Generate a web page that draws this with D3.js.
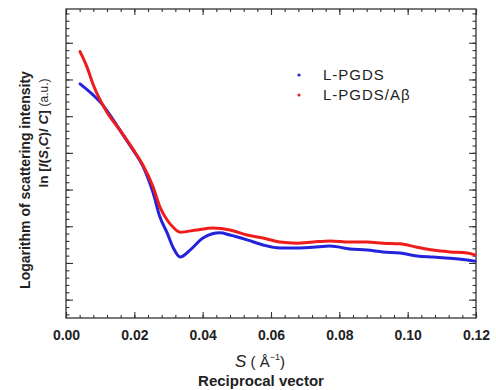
<!DOCTYPE html>
<html>
<head>
<meta charset="utf-8">
<script src="https://cdn.jsdelivr.net/npm/d3@7"></script>
<style>
  body { margin: 0; background: #fff; }
  svg { font-family: "Liberation Sans", Arial, sans-serif; }
</style>
</head>
<body>
<div id="chart"></div>
<script>
// reciprocal vector S (1/A) and ln intensity (a.u.)
const sPgds = [0.0041, 0.0079, 0.0108, 0.0138, 0.0167, 0.0196, 0.0225, 0.0255, 0.0275, 0.0296,
  0.0313, 0.0334, 0.0363, 0.0401, 0.0451, 0.0480, 0.0530, 0.0577, 0.0626, 0.0676,
  0.0723, 0.0773, 0.0831, 0.0881, 0.0928, 0.0978, 0.1027, 0.1074, 0.1124, 0.1174, 0.1197];
const lnPgds = [6.88, 6.58, 6.30, 5.90, 5.49, 5.08, 4.64, 3.91, 3.25, 2.82,
  2.43, 2.16, 2.35, 2.68, 2.82, 2.76, 2.63, 2.49, 2.41, 2.41,
  2.43, 2.46, 2.38, 2.35, 2.30, 2.27, 2.19, 2.16, 2.13, 2.08, 2.05];

const sAbeta = [0.0041, 0.0061, 0.0080, 0.0119, 0.0158, 0.0196, 0.0225, 0.0255, 0.0275, 0.0296,
  0.0313, 0.0334, 0.0383, 0.0430, 0.0480, 0.0530, 0.0577, 0.0626, 0.0676, 0.0723,
  0.0773, 0.0831, 0.0881, 0.0928, 0.0978, 0.1027, 0.1074, 0.1124, 0.1174, 0.1197];
const lnAbeta = [7.76, 7.35, 6.85, 6.12, 5.62, 5.10, 4.67, 4.07, 3.52, 3.17,
  2.98, 2.84, 2.90, 2.95, 2.90, 2.76, 2.68, 2.57, 2.54, 2.57,
  2.60, 2.57, 2.57, 2.54, 2.52, 2.43, 2.35, 2.30, 2.27, 2.22];

const seriesNames = ['L-PGDS', 'L-PGDS/A\u03b2'];
const seriesColors = ['#2323dc', '#ee1c1c'];
const xTicks = [0, 0.02, 0.04, 0.06, 0.08, 0.10, 0.12];

const width = 496, height = 390;
const margin = { top: 9, right: 20, bottom: 72, left: 66 };
const w = width - margin.left - margin.right;
const h = height - margin.top - margin.bottom;

const svg = d3.select('#chart').append('svg')
  .attr('width', width)
  .attr('height', height);

const g = svg.append('g')
  .attr('transform', 'translate(' + margin.left + ',' + margin.top + ')');

const x = d3.scaleLinear().domain([0, 0.12]).range([0, w]);
const y = d3.scaleLinear().domain([0.5, 8.92]).range([h, 0]);

const xMinor = d3.range(0, 0.1201, 0.004);
const yMajor = d3.range(1, 9, 1);
const yMinor = d3.range(0.6, 8.9, 0.2);

function styleAxis(sel) {
  sel.select('.domain').remove();
  sel.selectAll('.tick line').attr('stroke', '#333').attr('stroke-width', 1.1);
}

// minor ticks
g.append('g').attr('transform', 'translate(0,' + h + ')')
  .call(d3.axisBottom(x).tickValues(xMinor).tickSize(-3).tickFormat(''))
  .call(styleAxis);
g.append('g')
  .call(d3.axisTop(x).tickValues(xMinor).tickSize(-3).tickFormat(''))
  .call(styleAxis);
g.append('g')
  .call(d3.axisLeft(y).tickValues(yMinor).tickSize(-3.5).tickFormat(''))
  .call(styleAxis);
g.append('g').attr('transform', 'translate(' + w + ',0)')
  .call(d3.axisRight(y).tickValues(yMinor).tickSize(-3.5).tickFormat(''))
  .call(styleAxis);

// major ticks
const xAxis = g.append('g').attr('transform', 'translate(0,' + h + ')')
  .call(d3.axisBottom(x).tickValues(xTicks).tickSize(-6).tickPadding(12).tickFormat(d3.format('.2f')))
  .call(styleAxis);
xAxis.selectAll('text')
  .attr('font-size', 14).attr('font-weight', 'bold').attr('fill', '#222')
  .attr('font-family', '"Liberation Sans", Arial, sans-serif');
g.append('g')
  .call(d3.axisTop(x).tickValues(xTicks).tickSize(-6).tickFormat(''))
  .call(styleAxis);
g.append('g')
  .call(d3.axisLeft(y).tickValues(yMajor).tickSize(-7).tickFormat(''))
  .call(styleAxis);
g.append('g').attr('transform', 'translate(' + w + ',0)')
  .call(d3.axisRight(y).tickValues(yMajor).tickSize(-7).tickFormat(''))
  .call(styleAxis);

// frame
g.append('rect')
  .attr('width', w).attr('height', h)
  .attr('fill', 'none').attr('stroke', '#333').attr('stroke-width', 1.3);

// curves
const line = d3.line()
  .x(d => x(d[0]))
  .y(d => y(d[1]))
  .curve(d3.curveMonotoneX);

const series = [
  d3.zip(sPgds, lnPgds),
  d3.zip(sAbeta, lnAbeta)
];

series.forEach((pts, i) => {
  g.append('path')
    .datum(pts)
    .attr('fill', 'none')
    .attr('stroke', seriesColors[i])
    .attr('stroke-width', 3)
    .attr('stroke-linejoin', 'round')
    .attr('stroke-linecap', 'round')
    .attr('d', line);
});

// legend
const legend = svg.append('g').attr('transform', 'translate(299,75)');
seriesNames.forEach((name, i) => {
  legend.append('circle')
    .attr('cx', 0).attr('cy', i * 20).attr('r', 1.6)
    .attr('fill', seriesColors[i]);
  legend.append('text')
    .attr('x', 24).attr('y', i * 20 + 5)
    .attr('font-size', 15)
    .attr('letter-spacing', 1)
    .attr('fill', '#222')
    .text(name);
});

// x label
const xl = svg.append('text')
  .attr('x', 260).attr('y', 367)
  .attr('text-anchor', 'middle')
  .attr('font-size', 15).attr('fill', '#222');
xl.append('tspan').attr('font-style', 'italic').attr('font-size', 17).text('S');
xl.append('tspan').text(' (  \u00c5');
xl.append('tspan').attr('font-size', 9).attr('dy', -7).text('\u22121');
xl.append('tspan').attr('dy', 7).text(')');

svg.append('text')
  .attr('x', 261).attr('y', 386)
  .attr('text-anchor', 'middle')
  .attr('font-size', 15).attr('font-weight', 'bold').attr('fill', '#222')
  .text('Reciprocal vector');

// y label
svg.append('text')
  .attr('transform', 'translate(30,180) rotate(-90)')
  .attr('text-anchor', 'middle')
  .attr('font-size', 14).attr('font-weight', 'bold').attr('fill', '#222')
  .text('Logarithm of scattering intensity');

const yl = svg.append('text')
  .attr('transform', 'translate(48,133) rotate(-90)')
  .attr('text-anchor', 'middle')
  .attr('font-size', 13.5).attr('font-weight', 'bold').attr('fill', '#222');
yl.append('tspan').text('ln [');
yl.append('tspan').attr('font-style', 'italic').text('I');
yl.append('tspan').text('(');
yl.append('tspan').attr('font-style', 'italic').text('S');
yl.append('tspan').text(',');
yl.append('tspan').attr('font-style', 'italic').text('C');
yl.append('tspan').text(')/ ');
yl.append('tspan').attr('font-style', 'italic').text('C');
yl.append('tspan').text('] ');
yl.append('tspan').attr('font-weight', 'normal').attr('font-size', 12).text('(a.u.)');
</script>
</body>
</html>
